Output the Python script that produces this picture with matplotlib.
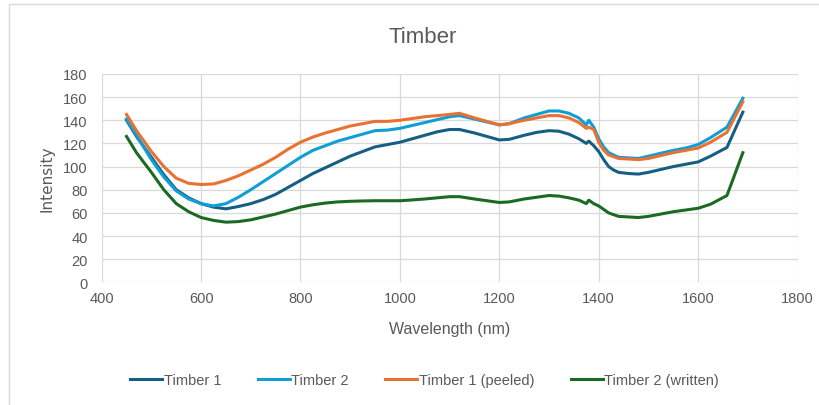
import matplotlib.pyplot as plt
from matplotlib.patches import Rectangle

# values
wl = [450, 470, 500, 525, 550, 575, 600, 625, 650, 675, 700, 725, 750, 775, 800, 825,
      850, 875, 900, 925, 950, 975, 1000, 1025, 1050, 1075, 1100, 1120, 1150, 1175,
      1200, 1220, 1250, 1275, 1300, 1320, 1340, 1360, 1375, 1380, 1390, 1400, 1410,
      1420, 1430, 1440, 1460, 1480, 1500, 1525, 1550, 1575, 1600, 1625, 1658, 1690]

timber1 = [140, 126, 108, 93, 80, 73, 68, 65, 63.5, 65.5, 68, 71.5, 76, 82, 88, 94,
           99, 104, 109, 113, 117, 119, 121, 124, 127, 130, 132, 132, 129, 126,
           123, 123.5, 127, 129.5, 131, 130.5, 128, 124, 120, 122, 118, 113, 106,
           100, 97, 95, 94, 93.5, 95, 97.5, 100, 102, 104, 109, 116.5, 147]
timber2 = [141, 127, 106, 91, 79, 72, 68, 66, 68, 73.5, 80, 87, 94, 101, 108, 114,
           118, 122, 125, 128, 131, 131.5, 133, 135.5, 138, 140.5, 143, 144, 141, 138.5,
           136, 137, 142, 145, 148, 148, 146, 142, 136, 140, 134, 124, 117,
           112, 110, 108, 107.5, 107, 109, 111.5, 114, 116, 119, 125, 134, 159]
peeled = [145, 131, 113, 100, 90, 85.5, 84.5, 85, 88, 92, 97, 102, 108, 115, 121, 125.5,
          129, 132, 135, 137, 139, 139, 140, 141.5, 143, 144, 145, 146, 142, 139,
          136, 137, 140, 142, 144, 144, 142, 138, 133, 134, 132, 121, 114,
          110, 108.5, 107, 106.5, 106, 107, 109.5, 112, 114, 116, 121, 129.5, 156]
written = [126, 112, 95, 80, 68, 61, 56, 53.5, 52, 52.5, 54, 56.5, 59, 62, 65, 67,
           68.5, 69.5, 70, 70.3, 70.5, 70.5, 70.5, 71.2, 72, 73, 74, 74, 72, 70.5,
           69, 69.5, 72, 73.5, 75, 74.5, 73, 71, 68, 71, 68, 66, 63,
           60, 58.5, 57, 56.5, 56, 57, 59, 61, 62.5, 64, 67.5, 75, 112]

series = [
    ("Timber 1", timber1, "#156082"),
    ("Timber 2", timber2, "#0f9ed5"),
    ("Timber 1 (peeled)", peeled, "#e97132"),
    ("Timber 2 (written)", written, "#196b24"),
]

plt.rcParams['font.family'] = ['Liberation Sans', 'DejaVu Sans']
txt = "#595959"

fig = plt.figure(figsize=(8.2, 4.06), dpi=100)
fig.patches.append(Rectangle((9 / 820, -0.1), 1.2, 1 - 5 / 406 + 0.1, transform=fig.transFigure,
                             fill=False, edgecolor="#d9d9d9", linewidth=1.0))
ax = fig.add_axes([0.124, 0.302, 0.8486, 0.5135])

for name, vals, col in series:
    ax.plot(wl, vals, color=col, linewidth=2.2, label=name)

ax.set_xlim(400, 1800)
ax.set_ylim(0, 180)
ax.set_xticks(range(400, 1801, 200))
ax.set_yticks(range(0, 181, 20))
ax.grid(True, color="#d9d9d9", linewidth=0.9)
ax.set_axisbelow(True)
for s in ax.spines.values():
    s.set_visible(False)
ax.tick_params(length=0, colors=txt, labelsize=10.5)
ax.tick_params(axis="y", pad=10)
ax.tick_params(axis="x", pad=6)

ax.set_xlabel("Wavelength (nm)", color=txt, fontsize=11.5, labelpad=12)
ax.set_ylabel("Intensity", color=txt, fontsize=11, labelpad=6, family='DejaVu Sans')
fig.text(0.515, 0.908, "Timber", ha="center", va="center", color=txt, fontsize=16)

fig.legend(loc="center", bbox_to_anchor=(0.518, 0.062), ncol=4, frameon=False,
           fontsize=10.5, labelcolor=txt, handlelength=2.2, handletextpad=0.1,
           columnspacing=2.5)

fig.savefig("out.png", dpi=100)
